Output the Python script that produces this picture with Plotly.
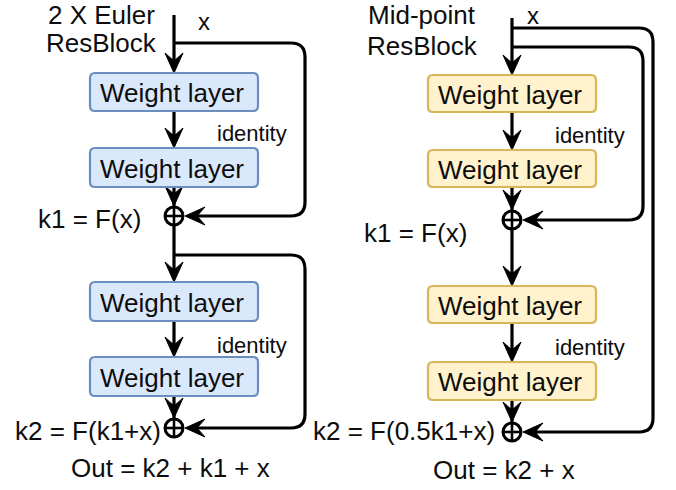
import plotly.graph_objects as go

# ---- text content (data) ----
block_titles = [["2 X Euler", "ResBlock"], ["Mid-point", "ResBlock"]]
box_labels = ["Weight layer", "Weight layer", "Weight layer", "Weight layer"]
input_labels = ["x", "x"]
skip_labels = ["identity", "identity"]
k1_labels = ["k1 = F(x)", "k1 = F(x)"]
k2_labels = ["k2 = F(k1+x)", "k2 = F(0.5k1+x)"]
out_labels = ["Out = k2 + k1 + x", "Out = k2 + x"]

# ---- layout geometry (pixels, y down) ----
W, H = 676, 490
FONT = "Liberation Sans, Arial, sans-serif"
TXT = "#0d0d0d"
LW = 3.2

cols = [
    dict(cx=174, top=15, boxes=[(73, 111), (148, 187), (282, 321), (357, 396)],
         c1=216, c2=428, fill="#dae8fc", line="#6c8ebf",
         title_x=101, title_y=[15, 43], x_lab=(204, 21),
         id_y=[133, 345], id_x=252,
         k1=(89, 219), k2=(88, 431), out=(170, 468)),
    dict(cx=512, top=18, boxes=[(75, 112), (150, 187), (286, 323), (362, 400)],
         c1=220, c2=432, fill="#fff2cc", line="#d6b656",
         title_x=422, title_y=[15, 46], x_lab=(533, 15),
         id_y=[135, 347], id_x=590,
         k1=(415, 233), k2=(404, 431), out=(504, 470)),
]
BOX_HW = 84
R_CIRC = 9
AL, AW = 20, 9   # arrow length, half width
CR = 14          # corner radius of skip lines

shapes = []
annotations = []


def line(x0, y0, x1, y1, w=LW):
    shapes.append(dict(type="line", x0=x0, y0=y0, x1=x1, y1=y1, xref="x", yref="y",
                       line=dict(color="black", width=w), layer="above"))


def arrow_down(x, y):
    p = (f"M {x} {y} L {x-AW} {y-AL} L {x} {y-0.6*AL} L {x+AW} {y-AL} Z")
    shapes.append(dict(type="path", path=p, xref="x", yref="y", fillcolor="black",
                       line=dict(color="black", width=1), layer="above"))


def arrow_left(x, y):
    p = (f"M {x} {y} L {x+AL} {y-AW} L {x+0.6*AL} {y} L {x+AL} {y+AW} Z")
    shapes.append(dict(type="path", path=p, xref="x", yref="y", fillcolor="black",
                       line=dict(color="black", width=1), layer="above"))


def rbox(x0, y0, x1, y1, r, fill, col):
    p = (f"M {x0+r} {y0} L {x1-r} {y0} Q {x1} {y0} {x1} {y0+r} L {x1} {y1-r} "
         f"Q {x1} {y1} {x1-r} {y1} L {x0+r} {y1} Q {x0} {y1} {x0} {y1-r} "
         f"L {x0} {y0+r} Q {x0} {y0} {x0+r} {y0} Z")
    shapes.append(dict(type="path", path=p, xref="x", yref="y", fillcolor=fill,
                       line=dict(color=col, width=2.2), layer="above"))


def skip(x0, y0, xr, y1, xend):
    p = (f"M {x0} {y0} L {xr-CR} {y0} Q {xr} {y0} {xr} {y0+CR} L {xr} {y1-CR} "
         f"Q {xr} {y1} {xr-CR} {y1} L {xend} {y1}")
    shapes.append(dict(type="path", path=p, xref="x", yref="y",
                       line=dict(color="black", width=LW), layer="above"))
    arrow_left(x0 + R_CIRC + 2, y1)


def plus_circle(x, y):
    shapes.append(dict(type="circle", x0=x-R_CIRC, y0=y-R_CIRC, x1=x+R_CIRC, y1=y+R_CIRC,
                       xref="x", yref="y", fillcolor="white",
                       line=dict(color="black", width=3), layer="above"))
    line(x - R_CIRC, y, x + R_CIRC, y, 2.6)
    line(x, y - R_CIRC, x, y + R_CIRC, 2.6)


def text(s, x, y, size, xanchor="center"):
    annotations.append(dict(text=s, x=x, y=y, xref="x", yref="y", showarrow=False,
                            xanchor=xanchor, yanchor="middle",
                            font=dict(family=FONT, size=size, color=TXT)))


for i, c in enumerate(cols):
    cx = c["cx"]
    b = c["boxes"]
    # main vertical segments
    line(cx, c["top"], cx, b[0][0] - 8)
    arrow_down(cx, b[0][0])
    line(cx, b[0][1], cx, b[1][0] - 8)
    arrow_down(cx, b[1][0])
    line(cx, b[1][1], cx, c["c1"] - R_CIRC)
    arrow_down(cx, c["c1"] - R_CIRC - 1)
    line(cx, c["c1"] + R_CIRC, cx, b[2][0] - 8)
    arrow_down(cx, b[2][0])
    line(cx, b[2][1], cx, b[3][0] - 8)
    arrow_down(cx, b[3][0])
    line(cx, b[3][1], cx, c["c2"] - R_CIRC)
    arrow_down(cx, c["c2"] - R_CIRC - 1)

    for (y0, y1), lab in zip(b, box_labels):
        rbox(cx - BOX_HW, y0, cx + BOX_HW, y1, 5, c["fill"], c["line"])
        text(lab, cx - 2, (y0 + y1) / 2 + 1, 26)

    if i == 0:
        skip(cx, 43, 305, c["c1"], cx + R_CIRC + 12)
        skip(cx, 255, 305, c["c2"], cx + R_CIRC + 12)
    else:
        skip(cx, 47, 643, c["c1"], cx + R_CIRC + 12)
        skip(cx, 28, 653, c["c2"], cx + R_CIRC + 12)

    plus_circle(cx, c["c1"])
    plus_circle(cx, c["c2"])

    text(block_titles[i][0], c["title_x"], c["title_y"][0], 26)
    text(block_titles[i][1], c["title_x"], c["title_y"][1], 26)
    text(input_labels[i], c["x_lab"][0], c["x_lab"][1], 24)
    for yy in c["id_y"]:
        text(skip_labels[i], c["id_x"], yy, 22)
    text(k1_labels[i], c["k1"][0], c["k1"][1], 26)
    text(k2_labels[i], c["k2"][0], c["k2"][1], 26)
    text(out_labels[i], c["out"][0], c["out"][1], 26)

fig = go.Figure()
fig.update_layout(
    width=W, height=H, autosize=False,
    margin=dict(l=0, r=0, t=0, b=0),
    paper_bgcolor="white", plot_bgcolor="white",
    xaxis=dict(range=[0, W], visible=False, fixedrange=True),
    yaxis=dict(range=[H, 0], visible=False, fixedrange=True),
    shapes=shapes, annotations=annotations, showlegend=False,
)
fig.write_html("out.html", config={"displayModeBar": False},
               post_script="document.body.style.margin='0';")
